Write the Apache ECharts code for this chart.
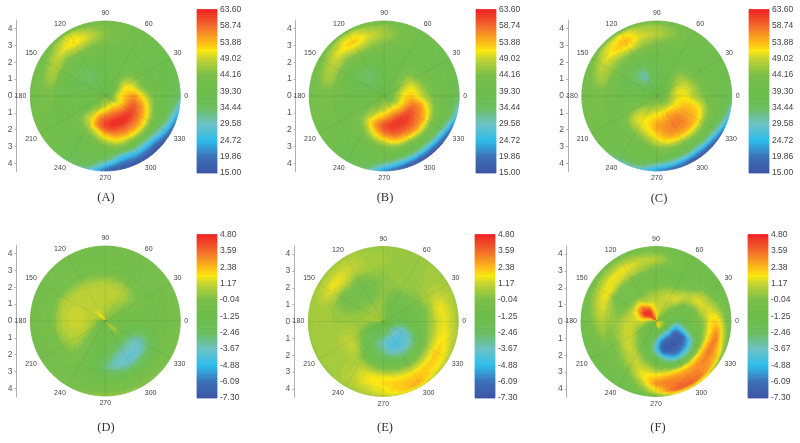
<!DOCTYPE html>
<html><head><meta charset="utf-8">
<style>html,body{margin:0;padding:0;background:#fff}#c{width:800px;height:443px}</style>
<script src="https://cdn.jsdelivr.net/npm/echarts@6/dist/echarts.min.js"></script>
</head><body><div id="c"></div>
<script>
// Node values: one row per angle, one column per radius.
// The series holds only these read values; renderItem shades the contour surface between nodes.
const angleNodes = [0,15,30,45,60,75,90,105,120,135,150,165,180,195,210,225,240,255,270,285,300,315,330,345];
const radiusNodes = [0.25,0.75,1.25,1.75,2.25,2.75,3.25,3.75,4.25,4.45];
const panelA = [
[42,50,54,56,51,45,41,38,36,32],[42,48,52,51,45,41,40,39,38,37],[41,45,50,48,43,40,40,39,39,39],[40,42,45,44,41,40,40,40,40,40],
[40,41,41,40,40,40,41,41,41,41],[40,40,40,40,40,41,42,43,42,41],[39,39,39,39,40,41,44,45,44,41],[39,38,38,38,40,42,46,49,45,41],
[38,37,35,36,39,42,48,52,49,41],[38,37,35,36,38,41,46,50,46,40],[39,38,37,37,38,41,47,47,43,40],[39,39,38,38,39,41,46,45,42,40],
[40,40,40,40,40,41,43,43,41,40],[41,40,40,40,40,40,41,42,42,41],[42,41,40,40,40,40,40,41,41,41],[44,44,45,46,42,40,40,40,40,39],
[45,46,50,50,45,41,39,38,37,36],[46,49,55,57,49,43,40,38,36,30],[45,50,58,61,55,47,41,36,23,19],[46,52,59,63,58,51,42,27,18,15],
[46,52,59,63,59,52,42,28,18,15],[45,52,58,63,59,53,42,28,17,15],[44,50,56,61,58,52,42,33,23,17],[43,49,55,59,56,49,41,38,29,23]];
const panelB = [
[41,47,52,53,49,45,41,40,37,34],[41,46,50,51,47,43,41,40,39,38],[40,43,47,48,44,41,40,40,39,39],[40,41,43,44,42,40,40,40,40,40],
[40,40,41,41,40,40,41,41,41,41],[40,40,40,40,40,41,43,44,43,41],[39,39,39,39,40,42,45,47,45,41],[39,38,38,38,40,43,47,50,46,42],
[38,37,34,35,39,43,49,53,49,42],[38,37,35,36,39,42,47,51,47,41],[39,38,37,37,39,42,47,48,44,41],[39,39,38,38,40,42,46,46,43,41],
[40,40,40,40,41,42,43,43,42,41],[41,40,40,40,41,41,42,43,43,41],[42,41,41,41,41,41,41,41,41,41],[44,44,45,45,43,41,40,40,40,39],
[44,45,48,51,46,42,40,39,38,37],[45,47,52,56,52,45,41,39,37,34],[45,48,54,60,57,49,42,39,27,22],[45,49,56,62,60,53,43,36,22,17],
[44,49,57,62,60,54,43,35,20,16],[43,49,56,62,60,55,44,35,20,16],[42,48,54,60,58,54,44,38,24,18],[42,47,53,57,56,50,43,40,33,25]];
const panelC = [
[40,46,50,51,48,45,41,40,38,35],[40,45,50,50,47,43,41,40,39,38],[40,43,47,48,45,41,40,40,40,39],[40,41,44,45,43,40,40,40,40,40],
[39,40,40,41,40,40,41,41,41,41],[39,39,39,40,40,41,43,45,44,41],[39,38,38,38,39,42,45,48,46,41],[38,37,36,37,39,43,47,50,47,42],
[38,36,31,33,39,43,50,54,50,42],[38,36,33,34,39,43,48,52,49,42],[39,38,37,37,39,43,47,49,45,41],[39,39,38,38,40,43,46,46,43,41],
[40,40,40,40,41,42,43,43,42,41],[41,41,41,41,41,41,42,43,42,41],[42,43,44,44,43,41,41,41,41,40],[44,45,48,49,46,42,41,40,40,38],
[44,46,49,51,48,43,41,40,35,31],[44,47,51,52,50,45,41,40,35,28],[44,48,52,55,53,49,43,39,27,22],[44,48,53,56,56,52,44,37,24,18],
[43,48,54,57,57,53,44,36,21,16],[43,47,54,57,57,54,45,36,21,16],[42,47,52,55,55,53,45,38,26,19],[42,46,51,53,53,50,44,40,34,26]];
const panelD = [
[-0.5,-0.6,-0.8,-0.9,-0.9,-0.8,-0.7,-0.6,-0.3,-0.1],[-0.2,-0.5,-0.6,-0.7,-0.8,-0.8,-0.7,-0.6,-0.4,-0.2],[0,-0.1,-0.2,-0.1,-0.2,-0.6,-0.7,-0.7,-0.5,-0.4],[0.2,0.2,0.3,0.4,0.1,-0.5,-0.7,-0.7,-0.6,-0.5],
[0.4,0.5,0.7,0.9,0.6,-0.3,-0.7,-0.7,-0.7,-0.6],[0.4,0.7,0.9,1.0,0.7,-0.1,-0.6,-0.7,-0.7,-0.6],[0.5,0.8,1.0,1.05,0.8,0,-0.5,-0.7,-0.7,-0.6],[0.7,0.9,1.0,1.05,0.8,0.1,-0.5,-0.7,-0.7,-0.6],
[1.4,1.2,1.0,1.05,0.9,0.2,-0.5,-0.7,-0.7,-0.6],[1.9,1.3,1.0,1.05,1.0,0.3,-0.4,-0.7,-0.7,-0.6],[1.0,1.1,1.1,1.1,1.05,0.6,-0.3,-0.7,-0.7,-0.6],[0.5,1.0,1.1,1.2,1.1,0.8,-0.2,-0.6,-0.7,-0.6],
[0.1,0.8,1.1,1.2,1.1,0.7,-0.2,-0.6,-0.7,-0.6],[-0.2,0.6,1.05,1.1,1.05,0.6,-0.3,-0.6,-0.7,-0.6],[-0.3,0.2,0.7,0.9,0.8,0.3,-0.4,-0.7,-0.7,-0.6],[-0.5,-0.4,-0.2,0.1,0.2,-0.1,-0.5,-0.7,-0.6,-0.4],
[-0.7,-0.8,-0.8,-0.7,-0.7,-0.7,-0.7,-0.7,-0.4,-0.1],[-0.8,-0.9,-1.0,-1.0,-1.2,-1.3,-0.9,-0.7,-0.2,0.2],[-0.7,-0.9,-1.1,-1.4,-2.0,-2.6,-1.6,-0.6,0,0.3],[-0.4,-1.0,-1.2,-2.0,-3.2,-3.5,-2.2,-0.7,0,0.3],
[0.3,-0.6,-1.3,-2.6,-3.6,-3.7,-2.4,-0.7,0,0.2],[0.8,0.5,-1.0,-2.9,-3.7,-3.6,-2.0,-0.7,-0.1,0.1],[0.6,0.2,-1.0,-2.6,-3.4,-3.0,-1.7,-0.7,-0.2,0],[0,-0.4,-0.9,-1.6,-2.0,-1.6,-0.9,-0.6,-0.2,0]];
const panelE = [
[-0.2,-1.8,-1.8,-1.0,-0.6,0.4,1.3,1.5,1.0,0.6],[-0.6,-1.3,-1.3,-1.0,-0.5,0.4,1.4,1.5,0.9,0.6],[-0.4,-1.0,-1.0,-0.9,-0.2,0.5,0.9,0.9,0.7,0.5],[-0.2,-0.9,-1.0,-0.8,0.1,0.4,0.5,0.6,0.6,0.5],
[0.1,-0.7,-0.9,-0.5,0.3,0.4,0.5,0.5,0.5,0.5],[0.2,-0.2,-0.5,0,0.3,0.4,0.5,0.5,0.5,0.5],[0.3,0.2,0.3,0.3,0.2,0.3,0.5,0.6,0.5,0.5],[0.3,0.4,0.3,-0.1,-0.2,0.2,0.6,0.7,0.6,0.5],
[0.4,0.5,0.2,-0.4,-0.8,-0.3,0.7,1.1,0.9,0.6],[0.6,0.6,0.3,-0.3,-0.7,-0.1,1.2,1.5,0.9,0.6],[0.7,0.6,0.3,-0.1,-0.5,-0.4,1.0,1.5,0.9,0.6],[0.7,0.6,0.5,0.3,0.2,0.3,0.6,0.8,0.7,0.6],
[0.6,0.5,0.5,0.5,0.5,0.5,0.6,0.6,0.6,0.5],[-0.2,-0.2,0.3,0.6,0.8,0.7,0.6,0.6,0.6,0.5],[-1.0,-1.2,-0.5,0.5,1.1,0.9,0.7,0.6,0.6,0.5],[-1.5,-1.8,-1.6,-0.3,0.9,0.9,0.7,0.7,0.6,0.5],
[-1.6,-1.9,-2.3,-1.5,-0.4,0.7,1.0,1.0,0.8,0.6],[-1.6,-2.0,-2.8,-2.3,-1.2,0.3,1.5,1.6,1.1,0.7],[-1.5,-2.1,-3.4,-3.0,-1.8,-0.2,1.5,1.9,1.5,1.0],[-1.5,-2.6,-4.0,-3.9,-2.4,-0.6,1.2,2.2,2.2,1.4],
[-1.6,-3.0,-4.1,-4.1,-2.9,-0.8,1.0,2.2,2.6,1.3],[-1.7,-3.2,-4.1,-4.0,-2.9,-0.7,1.0,2.2,1.8,1.1],[-1.6,-3.0,-3.9,-3.5,-2.2,-0.3,1.3,2.2,1.5,0.9],[-1.2,-2.6,-3.0,-2.2,-1.1,0.2,1.3,1.8,1.1,0.7]];
const panelF = [
[1.0,-1.0,-2.5,-1.2,-0.4,0.2,1.8,1.9,-0.2,-0.7],[0.2,-0.6,-1.0,-0.9,-0.6,1.0,1.3,0.4,-0.7,-1.0],[-0.1,-0.3,-0.5,-0.5,0.7,1.4,0.6,-0.6,-0.9,-1.0],[0.2,0.1,0.3,1.2,1.0,-0.1,-0.8,-1.0,-1.0,-1.0],
[0.6,0.8,1.0,1.2,0.2,-0.7,-1.0,-0.9,-1.0,-1.0],[1.2,1.2,1.1,0.9,-0.1,-0.7,-0.6,-0.1,-0.5,-0.9],[1.8,1.5,1.0,0.5,-0.4,-0.7,0.1,0.9,-0.2,-0.8],[3.0,2.4,1.2,0.3,-0.5,-0.6,0.6,1.1,0,-0.7],
[3.6,4.0,1.4,0.1,-0.5,-0.4,1.1,1.5,0.2,-0.6],[4.0,4.6,2.8,0.2,-0.5,-0.3,1.3,1.5,0.1,-0.7],[3.0,4.4,2.4,0.4,-0.5,-0.2,1.5,1.3,0,-0.7],[1.8,2.8,1.6,0.7,0,0.5,1.4,0.8,-0.4,-0.8],
[0.7,1.4,1.3,1.1,0.5,0.5,0.9,0.2,-0.7,-0.9],[0,0.5,0.9,1.3,0.7,0.1,0.3,-0.3,-0.8,-1.0],[-0.4,-0.4,0.3,1.2,1.0,0.1,-0.3,-0.7,-0.9,-1.0],[-0.6,-0.9,-0.5,0.6,1.2,0.5,-0.2,-0.8,-1.0,-1.0],
[-0.7,-1.0,-1.1,-0.3,0.8,1.1,0.3,-0.6,-1.0,-1.0],[-0.7,-1.3,-1.7,-1.4,-0.3,1.0,1.6,0.7,-0.5,-0.9],[-0.6,-1.4,-3.5,-3.6,-1.6,0.2,1.9,2.9,1.2,-0.3],[0.5,-2.0,-5.6,-6.6,-4.0,-0.8,2.2,3.3,3.6,1.0],
[2.4,-2.4,-6.2,-7.0,-5.8,-2.0,2.0,3.2,3.8,1.6],[1.8,-2.4,-6.2,-7.0,-5.8,-2.2,2.0,3.2,3.0,1.0],[1.6,-2.0,-6.0,-6.5,-4.6,-1.5,2.2,3.3,2.0,-0.1],[1.4,-1.6,-4.6,-3.6,-1.5,-0.3,1.9,3.2,0.6,-0.5]];
const topTicks = ["15.00","19.86","24.72","29.58","34.44","39.30","44.16","49.02","53.88","58.74","63.60"];
const bottomTicks = ["-7.30","-6.09","-4.88","-3.67","-2.46","-1.25","-0.04","1.17","2.38","3.59","4.80"];
const radialTicks = [-4,-3,-2,-1,0,1,2,3,4];
const panelNames = ["(A)","(B)","(C)","(D)","(E)","(F)"];
const panelValues = [panelA,panelB,panelC,panelD,panelE,panelF];
const panelTicks = [topTicks,topTicks,topTicks,bottomTicks,bottomTicks,bottomTicks];

// layout: polar centre, left axis x, colour bar left/top, caption position
const layout = [
 {cx:105.3,cy:96,  ax:16.5, bx:197,  by:9.5, capx:106,capy:198},
 {cx:384.2,cy:96,  ax:295.7,bx:476,  by:9.5, capx:385,capy:198},
 {cx:656.8,cy:96,  ax:568,  bx:749,  by:9.5, capx:659,capy:199},
 {cx:105.3,cy:321, ax:16.5, bx:197,  by:234.5,capx:106,capy:428},
 {cx:383.3,cy:321.5,ax:294.3,bx:475,  by:234.5,capx:385,capy:428},
 {cx:656,  cy:321.5,ax:566.7,bx:748,  by:234.5,capx:658,capy:428}];
const R=75, RMAX=4.45, BARW=20, BARH=163.5, LEVELS=64;
const stopT=[0,0.1,0.2,0.3,0.4,0.5,0.6,0.7,0.75,0.8,0.9,1];
const stopC=['#3A53A4','#3C6FB6','#2DBDEC','#6CC1C6','#6CBE5E','#6CBD4A','#78BE48','#C3D331','#FBE710','#FDBB18','#F26A2A','#EE2324'];
function colourAt(t){
  t=Math.max(0,Math.min(1,t));
  let k=0; while(k<stopT.length-2&&t>stopT[k+1])k++;
  return echarts.color.lerp((t-stopT[k])/(stopT[k+1]-stopT[k]),[stopC[k],stopC[k+1]]);
}
const colourCache={};
function quantColour(t){
  const q=Math.round(Math.max(0,Math.min(1,t))*LEVELS);
  return colourCache[q]||(colourCache[q]=colourAt(q/LEVELS));
}
function cr(p0,p1,p2,p3,f){
  return p1+0.5*f*(p2-p0+f*(2*p0-5*p1+4*p2-p3+f*(3*(p1-p2)+p3-p0)));
}

const option={animation:false,backgroundColor:'#fff',polar:[],angleAxis:[],radiusAxis:[],grid:[],xAxis:[],yAxis:[],series:[],graphic:[]};
layout.forEach((L,p)=>{
  const vals=panelValues[p], ticks=panelTicks[p];
  const vmin=parseFloat(ticks[0]), vmax=parseFloat(ticks[10]);
  option.polar.push({center:[L.cx,L.cy],radius:R});
  option.angleAxis.push({polarIndex:p,type:'value',min:0,max:360,interval:30,startAngle:0,clockwise:false,z:10,
    axisLine:{show:false},axisTick:{show:false},
    axisLabel:{show:true,fontSize:7,color:'#444',margin:4,fontFamily:'Liberation Sans'},
    splitLine:{show:true,lineStyle:{color:'rgba(70,70,70,0.14)',width:0.7}}});
  option.radiusAxis.push({polarIndex:p,type:'value',min:0,max:RMAX,interval:3,z:10,
    axisLine:{show:false},axisTick:{show:false},axisLabel:{show:false},
    splitLine:{show:true,lineStyle:{color:'rgba(70,70,70,0.08)',width:0.7}}});
  const data=[];
  angleNodes.forEach((a,i)=>radiusNodes.forEach((r,j)=>data.push([a,r,vals[i][j]])));
  const nA=angleNodes.length,nR=radiusNodes.length;
  const rowAt=(i,j,fu)=>cr(vals[(i-1+nA)%nA][j],vals[i][j],vals[(i+1)%nA][j],vals[(i+2)%nA][j],fu);
  option.series.push({type:'custom',coordinateSystem:'polar',polarIndex:p,z:1,silent:true,animation:false,progressive:0,
    encode:{angle:0,radius:1},data,
    renderItem(params,api){
      const k=params.dataIndex,i=Math.floor(k/nR),j=k%nR;
      const a0=angleNodes[i],a1=a0+15;
      const kids=[];
      const patch=(r0,r1,shade)=>{
        const nr=Math.max(1,Math.round((r1-r0)/0.1)),na=5;
        for(let u=0;u<na;u++)for(let w=0;w<nr;w++){
          const v=shade((u+.5)/na,(w+.5)/nr);
          const b0=a0+(a1-a0)*u/na,b1=a0+(a1-a0)*(u+1)/na;
          const c0=r0+(r1-r0)*w/nr,c1=r0+(r1-r0)*(w+1)/nr;
          const col=quantColour((v-vmin)/(vmax-vmin));
          kids.push({type:'polygon',silent:true,
            shape:{points:[api.coord([c0,b0]),api.coord([c0,b1]),api.coord([c1,b1]),api.coord([c1,b0])].map(q=>[q[0],q[1]])},
            style:{fill:col,stroke:col,lineWidth:0.7}});
        }
      };
      if(j===0) patch(0,radiusNodes[0],(fu)=>rowAt(i,0,fu));
      if(j<nR-1) patch(radiusNodes[j],radiusNodes[j+1],(fu,fw)=>{
        if(j>=nR-3) return rowAt(i,j,fu)*(1-fw)+rowAt(i,j+1,fu)*fw;
        return cr(rowAt(i,Math.max(0,j-1),fu),rowAt(i,j,fu),rowAt(i,j+1,fu),rowAt(i,j+2,fu),fw);
      });
      return {type:'group',children:kids};
    }});

  // left radial scale
  option.grid.push({left:L.ax,width:1,top:L.cy-75.8,height:151.6});
  let g=option.grid.length-1;
  option.xAxis.push({gridIndex:g,type:'value',show:false,min:0,max:1});
  option.yAxis.push({gridIndex:g,type:'value',min:-4.5,max:4.5,position:'left',
    axisLine:{show:true,lineStyle:{color:'#b0b0b0',width:1}},
    axisTick:{show:true,length:2,inside:false,lineStyle:{color:'#b0b0b0'},customValues:radialTicks},
    axisLabel:{color:'#555',fontSize:8.5,margin:4,fontFamily:'Liberation Sans',customValues:radialTicks,formatter:v=>String(Math.abs(v))},
    splitLine:{show:false}});

  // colour bar
  option.grid.push({left:L.bx,width:BARW,top:L.by,height:BARH});
  g=option.grid.length-1;
  option.xAxis.push({gridIndex:g,type:'value',show:false,min:0,max:1});
  option.yAxis.push({gridIndex:g,type:'value',min:vmin,max:vmax,position:'right',
    axisLine:{show:false},axisTick:{show:false},splitLine:{show:false},
    axisLabel:{color:'#444',fontSize:8.5,margin:3,fontFamily:'Liberation Sans',
      customValues:ticks.map(parseFloat),formatter:v=>v.toFixed(2)}});
  const bar=[];for(let n=0;n<LEVELS+1;n++)bar.push(n);
  option.series.push({type:'custom',coordinateSystem:'cartesian2d',xAxisIndex:option.xAxis.length-1,yAxisIndex:option.yAxis.length-1,
    silent:true,animation:false,encode:{y:0},data:bar.map(n=>[vmin+(vmax-vmin)*n/LEVELS]),
    renderItem(params,api){
      const n=params.dataIndex,st=(vmax-vmin)/LEVELS;
      const lo=Math.max(vmin,vmin+st*(n-.5)),hi=Math.min(vmax,vmin+st*(n+.5));
      const a=api.coord([0,hi]),b=api.coord([1,lo]);
      const c=quantColour(n/LEVELS);
      return {type:'rect',shape:{x:a[0],y:a[1],width:b[0]-a[0],height:b[1]-a[1]},style:{fill:c,stroke:c,lineWidth:0.8}};
    }});

  option.graphic.push({type:'text',x:L.capx,y:L.capy,silent:true,
    style:{text:panelNames[p],font:'12.5px "Liberation Serif"',fill:'#333',align:'center',verticalAlign:'middle'}});
});
const chart=echarts.init(document.getElementById('c'),null,{renderer:'canvas'});
chart.setOption(option);
</script></body></html>
